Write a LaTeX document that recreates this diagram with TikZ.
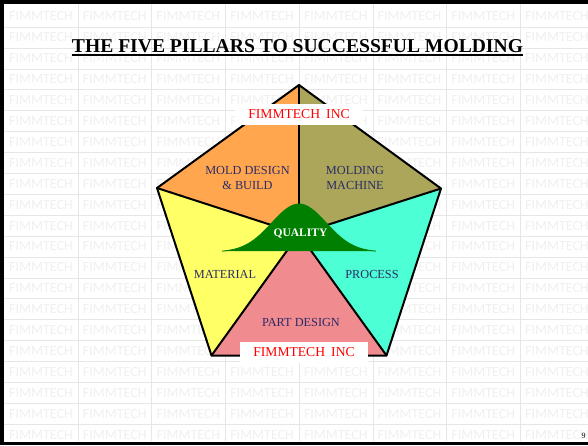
\documentclass[tikz,border=0pt]{standalone}
\usepackage{fontspec}
\setmainfont{Liberation Serif}
\newfontfamily\wmfont{Carlito}
\usetikzlibrary{calc}
\definecolor{wmtext}{HTML}{F0F0F0}
\definecolor{wmline}{HTML}{E6E6E6}
\definecolor{moldorange}{HTML}{FFA64F}
\definecolor{machineolive}{HTML}{ABA65A}
\definecolor{materialyellow}{HTML}{FFFF66}
\definecolor{processcyan}{HTML}{4DFFD4}
\definecolor{partpink}{HTML}{F08C8F}
\definecolor{bellgreen}{HTML}{007F00}
\definecolor{labelnavy}{HTML}{2B2B66}
\definecolor{brandred}{HTML}{FF0000}
\begin{document}
\begin{tikzpicture}[x=1pt,y=-1pt,
  wm/.style={font=\wmfont\fontsize{14}{14}\selectfont, text=wmtext, inner sep=0},
  pillar/.style={font=\fontsize{12.3}{15.5}\selectfont, text=labelnavy, align=center, inner sep=0},
  brand/.style={fill=white, text=brandred, font=\fontsize{13.6}{14}\selectfont,
                minimum width=128, minimum height=21, inner sep=0},
  edge/.style={line width=2, line join=round, line cap=round}]
\useasboundingbox (0,0) rectangle (588,445);
\fill[white] (0,0) rectangle (588,445);

% watermark table
\begin{scope}
  \clip (0,0) rectangle (588,445);
  \foreach \r in {0,...,19}
    \draw[wmline, line width=0.5] (4,{27+20.9*\r}) -- (588,{27+20.9*\r});
  \foreach \c in {0,...,6}
    \draw[wmline, line width=0.5] ({78+73.7*\c},4) -- ({78+73.7*\c},441);
  \foreach \c in {0,...,7}
    \foreach \r in {0,...,20}
      \node[wm] (wm-\c-\r) at ({41+73.7*\c},{16.5+20.9*\r}) {FIMMTECH};
\end{scope}

% slide frame
\fill[black] (0,0) rectangle (588,3.5);
\fill[black] (0,0) rectangle (3.5,445);
\fill[black] (0,441.5) rectangle (588,445);

% title
\node[font=\bfseries\fontsize{19.6}{20}\selectfont, inner sep=0, anchor=base] (title) at (297.5,52)
  {THE FIVE PILLARS TO SUCCESSFUL MOLDING};
\draw[line width=1.4] ($(title.base west)+(0,2.8)$) -- ($(title.base east)+(0,2.8)$);

% pentagon vertices and centre
\coordinate (top) at (299,85);
\coordinate (ul) at (157,188);
\coordinate (ur) at (441,188.5);
\coordinate (bl) at (211.5,355.5);
\coordinate (br) at (386.5,355.5);
\coordinate (c) at (299,234);

% the five pillars
\fill[moldorange] (top) -- (ul) -- (c) -- cycle;
\fill[machineolive] (top) -- (ur) -- (c) -- cycle;
\fill[materialyellow] (ul) -- (bl) -- (c) -- cycle;
\fill[processcyan] (ur) -- (br) -- (c) -- cycle;
\fill[partpink] (bl) -- (br) -- (c) -- cycle;
\draw[edge] (top) -- (ur) -- (br) -- (bl) -- (ul) -- cycle;
\draw[edge] (c) -- (top);
\draw[edge] (c) -- (ul);
\draw[edge] (c) -- (ur);
\draw[edge] (c) -- (bl);
\draw[edge] (c) -- (br);

% quality bell curve
\fill[bellgreen] plot[domain=-77:77, samples=90] ({299+\x},{252-48*exp(-\x*\x/1480)}) -- cycle;
\draw[bellgreen, line width=0.8] plot[domain=-77:77, samples=90] ({299+\x},{252-48*exp(-\x*\x/1480)});
\node[text=white, font=\bfseries\fontsize{11.5}{12}\selectfont, inner sep=0] (quality) at (300.5,234) {QUALITY};

% pillar labels
\node[pillar] (mold) at (247.5,178) {MOLD DESIGN\\\& BUILD};
\node[pillar] (machine) at (355,178) {MOLDING\\MACHINE};
\node[pillar] (material) at (225,274) {MATERIAL};
\node[pillar] (process) at (372,274) {PROCESS};
\node[pillar] (part) at (301,322) {PART DESIGN};

% company banners
\node[brand] (brandtop) at (299,114) {FIMMTECH\hspace{0.45em}INC};
\node[brand] (brandbottom) at (304,352.5) {FIMMTECH\hspace{0.45em}INC};

% page number
\node[font=\fontsize{8}{8}\selectfont, inner sep=0] (pagenum) at (583.5,436) {9};
\end{tikzpicture}
\end{document}
